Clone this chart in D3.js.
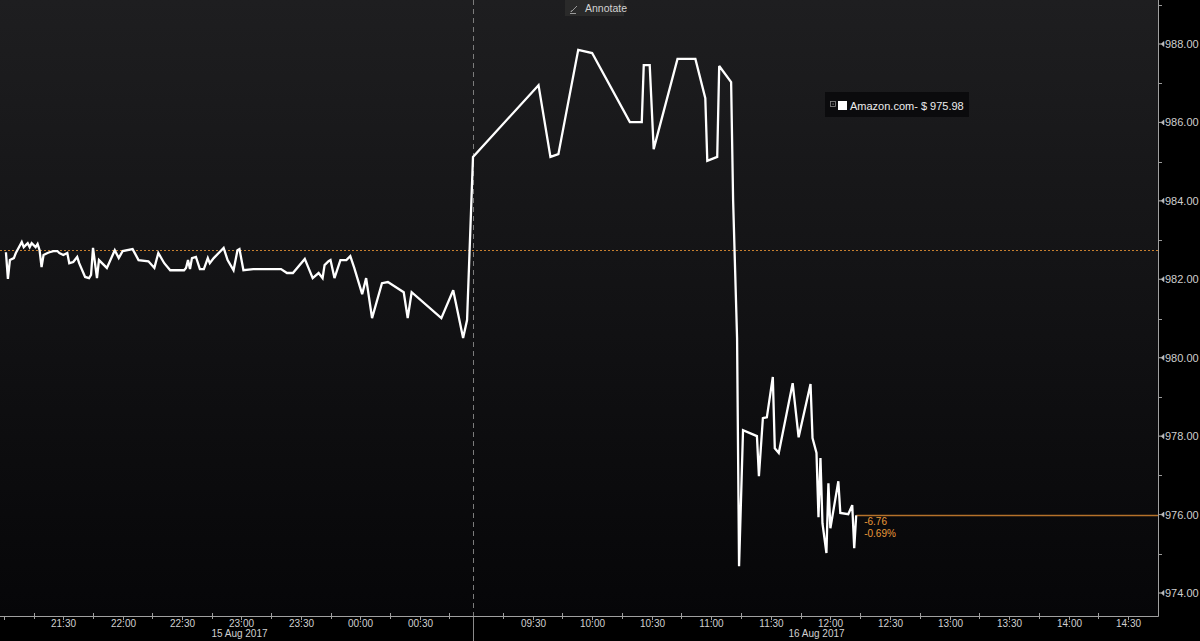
<!DOCTYPE html>
<html><head><meta charset="utf-8">
<script src="https://cdn.jsdelivr.net/npm/d3@7"></script>
<style>
html,body{margin:0;padding:0;background:#000;}
svg{display:block;font-family:"Liberation Sans",Arial,sans-serif;}
</style>
</head><body>
<svg id="chart" width="1200" height="641"></svg>
<script>
// ---------- data ----------
const seriesName = "Amazon.com-";
const lastPrice = 975.98;
const prevClose = 982.74;
const netChange = "-6.76";
const pctChange = "-0.69%";

// session bounds of the (discontinuous) time axis
const sessionBounds = ["2017-08-15 20:58", "2017-08-16 00:57", "2017-08-16 09:00", "2017-08-16 14:45"];

// evening session 15 Aug (times after midnight belong to 16 Aug)
const eveningTimes = ["21:01","21:02","21:03","21:05","21:06","21:09","21:10","21:12","21:13","21:14","21:16","21:17","21:18","21:19","21:20","21:22","21:23","21:25","21:27","21:28","21:30","21:32","21:33","21:35","21:37","21:38","21:41","21:43","21:44","21:45","21:47","21:48","21:52","21:56","21:58","22:00","22:05","22:08","22:13","22:16","22:18","22:21","22:24","22:31","22:32","22:33","22:34","22:35","22:37","22:39","22:41","22:43","22:44","22:46","22:51","22:53","22:56","22:58","22:59","23:01","23:06","23:20","23:23","23:26","23:32","23:36","23:39","23:41","23:42","23:44","23:45","23:47","23:50","23:53","23:55","23:57","00:01","00:03","00:06","00:11","00:14","00:22","00:24","00:26","00:41","00:47","00:52","00:54"];
const eveningPrices = [982.69,982.01,982.49,982.54,982.67,982.95,982.82,982.92,982.82,982.92,982.82,982.90,982.74,982.31,982.62,982.67,982.69,982.72,982.72,982.67,982.62,982.67,982.41,982.44,982.57,982.41,982.06,982.03,982.11,982.80,982.03,982.49,982.29,982.74,982.54,982.72,982.77,982.49,982.46,982.29,982.67,982.41,982.23,982.23,982.29,982.49,982.26,982.54,982.57,982.26,982.26,982.54,982.41,982.54,982.80,982.49,982.23,982.74,982.77,982.23,982.26,982.26,982.16,982.16,982.52,982.03,982.16,982.03,982.36,982.46,982.49,982.03,982.49,982.49,982.59,982.29,981.62,982.03,981.01,981.90,981.93,981.67,981.01,981.67,981.01,981.72,980.50,980.96];

// day session 16 Aug
const morningTimes = ["09:00","09:33","09:39","09:43","09:53","10:00","10:19","10:25","10:26","10:29","10:31","10:43","10:52","10:57","10:58","11:03","11:04","11:10","11:11","11:13","11:14","11:16","11:23","11:24","11:26","11:28","11:31","11:32","11:34","11:41","11:44","11:50","11:51","11:53","11:54","11:55","11:56","11:58","11:59","12:00","12:04","12:05","12:09","12:11","12:12","12:13"];
const morningPrices = [985.12,986.95,985.12,985.19,987.85,987.77,986.01,986.01,987.46,987.46,985.32,987.62,987.62,986.62,985.02,985.12,987.44,987.03,984.02,980.50,974.68,978.15,978.00,976.98,978.46,978.48,979.51,977.69,977.57,979.35,977.97,979.33,977.95,977.57,975.93,977.44,975.78,975.02,976.80,975.65,976.85,976.04,976.01,976.24,975.14,975.98];

const yMajorTicks = [974, 976, 978, 980, 982, 984, 986, 988];
const yMinorTicks = [975, 977, 979, 981, 983, 985, 987, 989];
const dateLabels = ["15 Aug 2017", "16 Aug 2017"];
const dateLabelTimes = ["2017-08-15 22:59", "2017-08-16 11:53"];

// ---------- layout ----------
const W = 1200, H = 641;
const plotRight = 1158, plotBottom = 616, breakX = 473;

const parseT = d3.timeParse("%Y-%m-%d %H:%M");
const bounds = sessionBounds.map(parseT);
const eveDate = t => parseT((+t.slice(0, 2) >= 12 ? "2017-08-15 " : "2017-08-16 ") + t);
const dayDate = t => parseT("2017-08-16 " + t);

const data = eveningTimes.map((t, i) => ({date: eveDate(t), price: eveningPrices[i]}))
  .concat(morningTimes.map((t, i) => ({date: dayDate(t), price: morningPrices[i]})));

const x = d3.scaleTime().domain(bounds).range([0, breakX, breakX, plotRight]);
const y = d3.scaleLinear().domain([974, 988]).range([593, 44]);

const svg = d3.select("#chart");
svg.append("rect").attr("width", W).attr("height", H).attr("fill", "#000");

const defs = svg.append("defs");
const grad = defs.append("linearGradient").attr("id", "bg").attr("x1", 0).attr("y1", 0).attr("x2", 0).attr("y2", 1);
grad.append("stop").attr("offset", "0%").attr("stop-color", "#1e1e20");
grad.append("stop").attr("offset", "100%").attr("stop-color", "#060608");
svg.append("rect").attr("x", 0).attr("y", 0).attr("width", plotRight).attr("height", plotBottom).attr("fill", "url(#bg)");

// session break dashed line
svg.append("line").attr("x1", breakX + 0.5).attr("x2", breakX + 0.5).attr("y1", 0).attr("y2", plotBottom)
  .attr("stroke", "#7c7c7c").attr("stroke-width", 1).attr("stroke-dasharray", "5,4");
svg.append("line").attr("x1", breakX + 0.5).attr("x2", breakX + 0.5).attr("y1", plotBottom).attr("y2", H)
  .attr("stroke", "#8a8a8a").attr("stroke-width", 1);

// previous close dotted line
svg.append("line").attr("x1", 0).attr("x2", plotRight).attr("y1", Math.round(y(prevClose)) + 0.5).attr("y2", Math.round(y(prevClose)) + 0.5)
  .attr("stroke", "#c8802f").attr("stroke-width", 1.2).attr("stroke-dasharray", "2,2");

// last price line
const lastD = data[data.length - 1];
svg.append("line").attr("x1", x(lastD.date)).attr("x2", plotRight).attr("y1", Math.round(y(lastPrice)) + 0.5).attr("y2", Math.round(y(lastPrice)) + 0.5)
  .attr("stroke", "#b5722a").attr("stroke-width", 1.3);
svg.append("text").attr("x", x(lastD.date) + 8).attr("y", y(lastPrice) + 10).attr("fill", "#ea9a3a")
  .attr("font-size", 10).text(netChange);
svg.append("text").attr("x", x(lastD.date) + 8).attr("y", y(lastPrice) + 22).attr("fill", "#ea9a3a")
  .attr("font-size", 10).text(pctChange);

// price line
const line = d3.line().x(d => x(d.date)).y(d => y(d.price));
svg.append("path").datum(data).attr("d", line).attr("fill", "none")
  .attr("stroke", "#ffffff").attr("stroke-width", 2.3).attr("stroke-linejoin", "miter").attr("stroke-miterlimit", 3);

// ---------- right axis ----------
const yAxis = d3.axisRight(y).tickValues(yMajorTicks).tickFormat(d3.format(".2f")).tickSize(0).tickPadding(7);
const gy = svg.append("g").attr("transform", `translate(${plotRight},0)`).call(yAxis);
gy.select(".domain").remove();
gy.selectAll("text").attr("fill", "#cfcfcf").attr("font-size", 11).attr("font-family", "Liberation Sans, Arial, sans-serif");
yMajorTicks.forEach(v => {
  const yy = y(v);
  svg.append("path").attr("d", `M${plotRight},${yy}h3l3,-2.5v5l-3,-2.5z`).attr("fill", "#bdbdbd").attr("stroke", "#bdbdbd").attr("stroke-width", 0.6);
});
yMinorTicks.forEach(v => {
  const yy = Math.round(y(v)) + 0.5;
  svg.append("line").attr("x1", plotRight).attr("x2", plotRight + 4).attr("y1", yy).attr("y2", yy).attr("stroke", "#9a9a9a");
});
svg.append("line").attr("x1", plotRight + 0.5).attr("x2", plotRight + 0.5).attr("y1", 0).attr("y2", plotBottom + 0.5)
  .attr("stroke", "#a0a0a0").attr("stroke-width", 1);

// ---------- bottom axis ----------
svg.append("line").attr("x1", 0).attr("x2", plotRight + 0.5).attr("y1", plotBottom + 0.5).attr("y2", plotBottom + 0.5)
  .attr("stroke", "#a0a0a0").attr("stroke-width", 1);
const fmt = d3.timeFormat("%H:%M");
[[bounds[0], bounds[1]], [bounds[2], bounds[3]]].forEach(([s, e]) => {
  d3.timeMinute.every(15).range(s, e).forEach(t => {
    const xx = Math.round(x(t)) + 0.5;
    if (xx < 3 || Math.abs(xx - breakX) < 3 || xx > plotRight - 2) return;
    const major = t.getMinutes() % 30 === 0;
    if (major) {
      svg.append("line").attr("x1", xx).attr("x2", xx).attr("y1", plotBottom).attr("y2", plotBottom + 4).attr("stroke", "#a0a0a0");
      if (xx > 20) {
        svg.append("text").attr("x", xx).attr("y", plotBottom + 11).attr("text-anchor", "middle")
          .attr("fill", "#d0d0d0").attr("font-size", 10).text(fmt(t));
      }
    } else {
      svg.append("line").attr("x1", xx).attr("x2", xx).attr("y1", plotBottom - 3).attr("y2", plotBottom + 3).attr("stroke", "#a0a0a0");
    }
  });
});
dateLabels.forEach((lab, i) => {
  svg.append("text").attr("x", x(parseT(dateLabelTimes[i]))).attr("y", plotBottom + 21).attr("text-anchor", "middle")
    .attr("fill", "#d0d0d0").attr("font-size", 10).text(lab);
});

// ---------- annotate button ----------
const btn = svg.append("g");
btn.append("rect").attr("x", 565).attr("y", 0).attr("width", 59).attr("height", 16).attr("fill", "#2a2a2a");
btn.append("path").attr("d", "M571,12 L577,6 M571,12 L571.5,10.5 M570,13.5 H576").attr("stroke", "#9a9a9a").attr("stroke-width", 1).attr("fill", "none");
btn.append("text").attr("x", 585).attr("y", 12).attr("fill", "#d2d2d2").attr("font-size", 10.5).text("Annotate");

// ---------- legend ----------
const lg = svg.append("g");
lg.append("rect").attr("x", 825).attr("y", 92).attr("width", 144).attr("height", 25).attr("fill", "#0b0b0d");
lg.append("rect").attr("x", 830.5).attr("y", 101.5).attr("width", 5).attr("height", 5).attr("fill", "none").attr("stroke", "#8a8a8a").attr("stroke-width", 0.8);
lg.append("rect").attr("x", 832.5).attr("y", 103.5).attr("width", 1.2).attr("height", 1.2).attr("fill", "#8a8a8a");
lg.append("rect").attr("x", 838).attr("y", 101).attr("width", 9).attr("height", 9).attr("fill", "#ffffff");
lg.append("text").attr("x", 850).attr("y", 109.5).attr("fill", "#ececec").attr("font-size", 11)
  .text(seriesName + " $ " + lastPrice.toFixed(2));
</script>
</body></html>
